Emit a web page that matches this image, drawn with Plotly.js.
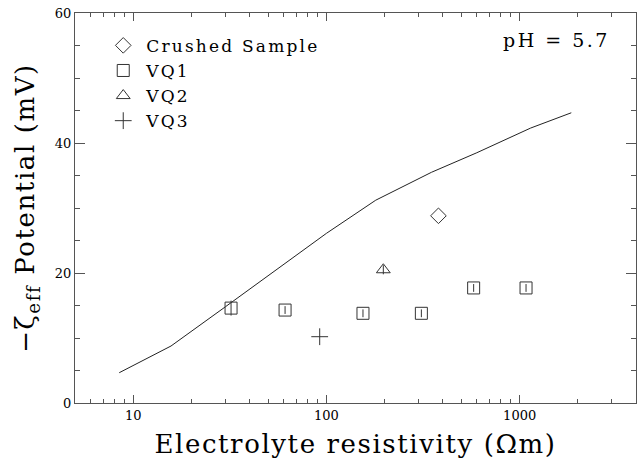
<!DOCTYPE html>
<html>
<head>
<meta charset="utf-8">
<script src="https://cdn.plot.ly/plotly-3.0.1.min.js"></script>
<style>
  html, body { margin: 0; padding: 0; background: #fff; }
  #chart { width: 641px; height: 466px; }
  .legendtext { letter-spacing: 2.2px; }
  .xtitle { letter-spacing: 1.6px; }
  .ytitle { letter-spacing: 1.6px; }
  .annotation-text { letter-spacing: 2.5px; }
</style>
</head>
<body>
<div id="chart"></div>
<script>
// Model curve (solid line)
const modelResistivity = [8.47, 15.7, 30, 60, 100, 180, 350, 600, 1140, 1850];
const modelZeta = [4.66, 8.77, 14.8, 21.3, 26.1, 31.2, 35.5, 38.5, 42.3, 44.65];

// Crushed sample
const crushedResistivity = [380];
const crushedZeta = [28.8];

// VQ1
const vq1Resistivity = [32.1, 61.1, 154.6, 310, 578, 1079];
const vq1Zeta = [14.6, 14.3, 13.8, 13.8, 17.7, 17.7];
const vq1Err = [1.15, 0.6, 0.6, 0.6, 0.6, 0.6];

// VQ2
const vq2Resistivity = [197];
const vq2Zeta = [20.5];
const vq2Err = [0.7];

// VQ3
const vq3Resistivity = [92.3];
const vq3Zeta = [10.2];

// Axis ticks
const xMajorTicks = [10, 100, 1000];
const xMajorLabels = ['10', '100', '1000'];
const xMinorTicks = [6, 7, 8, 9, 20, 30, 40, 50, 60, 70, 80, 90,
                     200, 300, 400, 500, 600, 700, 800, 900, 2000, 3000];

const ink = '#333';
const frame = '#555';
const serif = 'DejaVu Serif, serif';

const traces = [
  {
    x: modelResistivity, y: modelZeta, type: 'scatter', mode: 'lines',
    line: {color: '#222', width: 1}, showlegend: false, hoverinfo: 'skip'
  },
  {
    x: crushedResistivity, y: crushedZeta, type: 'scatter', mode: 'markers',
    name: 'Crushed Sample',
    marker: {symbol: 'diamond-open', size: 12, color: ink, line: {width: 1, color: ink}}
  },
  {
    x: vq1Resistivity, y: vq1Zeta, type: 'scatter', mode: 'markers',
    name: 'VQ1',
    marker: {symbol: 'square-open', size: 12, color: ink, line: {width: 1, color: ink}},
    error_y: {type: 'data', array: vq1Err, visible: true, width: 0, thickness: 1, color: ink}
  },
  {
    x: vq2Resistivity, y: vq2Zeta, type: 'scatter', mode: 'markers',
    name: 'VQ2',
    marker: {symbol: 'triangle-up-open', size: 12, color: ink, line: {width: 1, color: ink}},
    error_y: {type: 'data', array: vq2Err, visible: true, width: 0, thickness: 1, color: ink}
  },
  {
    x: vq3Resistivity, y: vq3Zeta, type: 'scatter', mode: 'markers',
    name: 'VQ3',
    marker: {symbol: 'cross-thin-open', size: 12, color: ink, line: {width: 1, color: ink}}
  }
];

const layout = {
  width: 641, height: 466,
  margin: {l: 75, r: 5, t: 13, b: 63},
  paper_bgcolor: '#fff', plot_bgcolor: '#fff',
  font: {family: serif, color: '#000'},
  showlegend: true,
  legend: {
    x: 0.045, y: 0.962, xanchor: 'left', yanchor: 'top',
    bgcolor: 'rgba(0,0,0,0)', borderwidth: 0, itemwidth: 36,
    font: {family: serif, size: 17, color: '#000'}
  },
  xaxis: {
    type: 'log',
    range: [Math.log10(5), Math.log10(4000)],
    tickmode: 'array', tickvals: xMajorTicks, ticktext: xMajorLabels,
    ticks: 'inside', ticklen: 8, tickwidth: 1, tickcolor: frame,
    showline: true, linecolor: frame, linewidth: 1, mirror: 'allticks',
    showgrid: false, zeroline: false,
    tickfont: {family: serif, size: 13, color: '#000'},
    minor: {tickmode: 'array', tickvals: xMinorTicks, ticks: 'inside', ticklen: 4, tickwidth: 1, tickcolor: frame, showgrid: false},
    title: {text: 'Electrolyte resistivity (Ωm)', font: {family: serif, size: 26, color: '#000'}, standoff: 13}
  },
  yaxis: {
    range: [0, 60], tick0: 0, dtick: 20,
    ticks: 'inside', ticklen: 10, tickwidth: 1, tickcolor: frame,
    showline: true, linecolor: frame, linewidth: 1, mirror: 'allticks',
    showgrid: false, zeroline: false,
    tickfont: {family: serif, size: 13, color: '#000'},
    minor: {dtick: 5, ticks: 'inside', ticklen: 5, tickwidth: 1, tickcolor: frame, showgrid: false},
    title: {text: '−ζ<sub>eff</sub> Potential (mV)', font: {family: serif, size: 26, color: '#000'}, standoff: 12}
  },
  annotations: [
    {
      xref: 'paper', yref: 'paper', x: 0.957, y: 0.931,
      xanchor: 'right', yanchor: 'middle', showarrow: false,
      text: 'pH = 5.7', font: {family: serif, size: 19, color: '#000'}
    }
  ]
};

Plotly.newPlot('chart', traces, layout, {displayModeBar: false, staticPlot: true});
</script>
</body>
</html>
